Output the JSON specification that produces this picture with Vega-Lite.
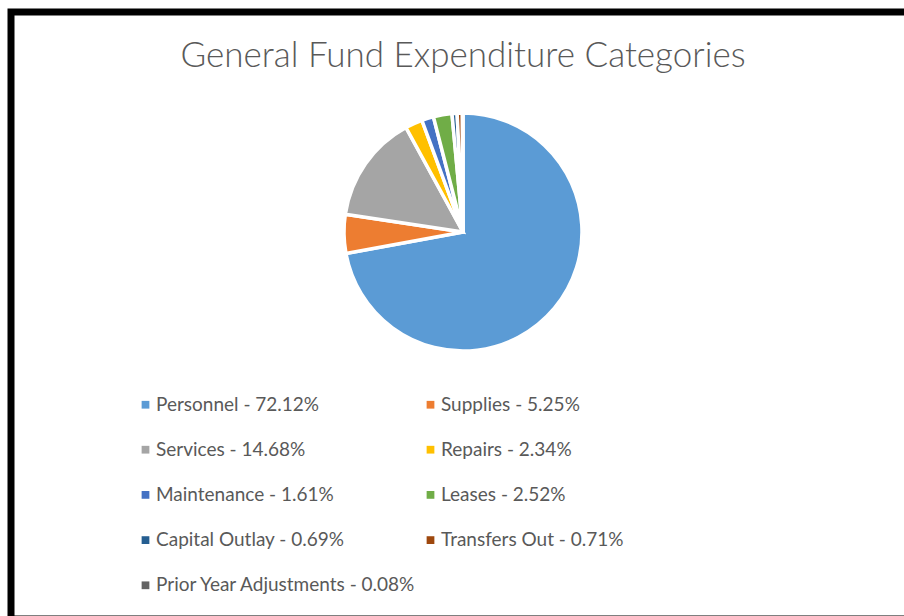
{
  "$schema": "https://vega.github.io/schema/vega-lite/v6.json",
  "autosize": "none",
  "padding": {"left": 11, "top": 12, "right": 0, "bottom": 0},
  "width": 904,
  "height": 607,
  "background": "white",
  "view": {"stroke": "black", "strokeWidth": 7, "fill": "white"},
  "title": {"text": "General Fund Expenditure Categories", "font": "Lato", "fontSize": 35, "fontWeight": 300, "color": "#595959", "anchor": "middle", "dy": 66},
  "data": {"values": [
    {"order": 1, "category": "Personnel - 72.12%", "pct": 72.12},
    {"order": 2, "category": "Supplies - 5.25%", "pct": 5.25},
    {"order": 3, "category": "Services - 14.68%", "pct": 14.68},
    {"order": 4, "category": "Repairs - 2.34%", "pct": 2.34},
    {"order": 5, "category": "Maintenance - 1.61%", "pct": 1.61},
    {"order": 6, "category": "Leases - 2.52%", "pct": 2.52},
    {"order": 7, "category": "Capital Outlay - 0.69%", "pct": 0.69},
    {"order": 8, "category": "Transfers Out - 0.71%", "pct": 0.71},
    {"order": 9, "category": "Prior Year Adjustments - 0.08%", "pct": 0.08}
  ]},
  "mark": {"type": "arc", "radius": 119, "y": 220, "stroke": "white", "strokeWidth": 3.5},
  "encoding": {
    "theta": {"field": "pct", "type": "quantitative", "stack": true},
    "order": {"field": "order", "type": "quantitative"},
    "color": {
      "field": "category",
      "type": "nominal",
      "scale": {
        "domain": ["Personnel - 72.12%", "Supplies - 5.25%", "Services - 14.68%", "Repairs - 2.34%", "Maintenance - 1.61%", "Leases - 2.52%", "Capital Outlay - 0.69%", "Transfers Out - 0.71%", "Prior Year Adjustments - 0.08%"],
        "range": ["#5B9BD5", "#ED7D31", "#A5A5A5", "#FFC000", "#4472C4", "#70AD47", "#255E91", "#9E480E", "#636363"]
      },
      "legend": {
        "title": null,
        "orient": "none",
        "direction": "horizontal",
        "legendX": 125,
        "legendY": 383,
        "columns": 2,
        "columnPadding": 4,
        "rowPadding": 25.2,
        "padding": 0,
        "symbolType": "square",
        "symbolSize": 60,
        "symbolStrokeWidth": 0,
        "labelFont": "Lato",
        "labelFontSize": 19,
        "labelColor": "#595959",
        "labelOffset": 1,
        "labelLimit": 400
      }
    }
  }
}
